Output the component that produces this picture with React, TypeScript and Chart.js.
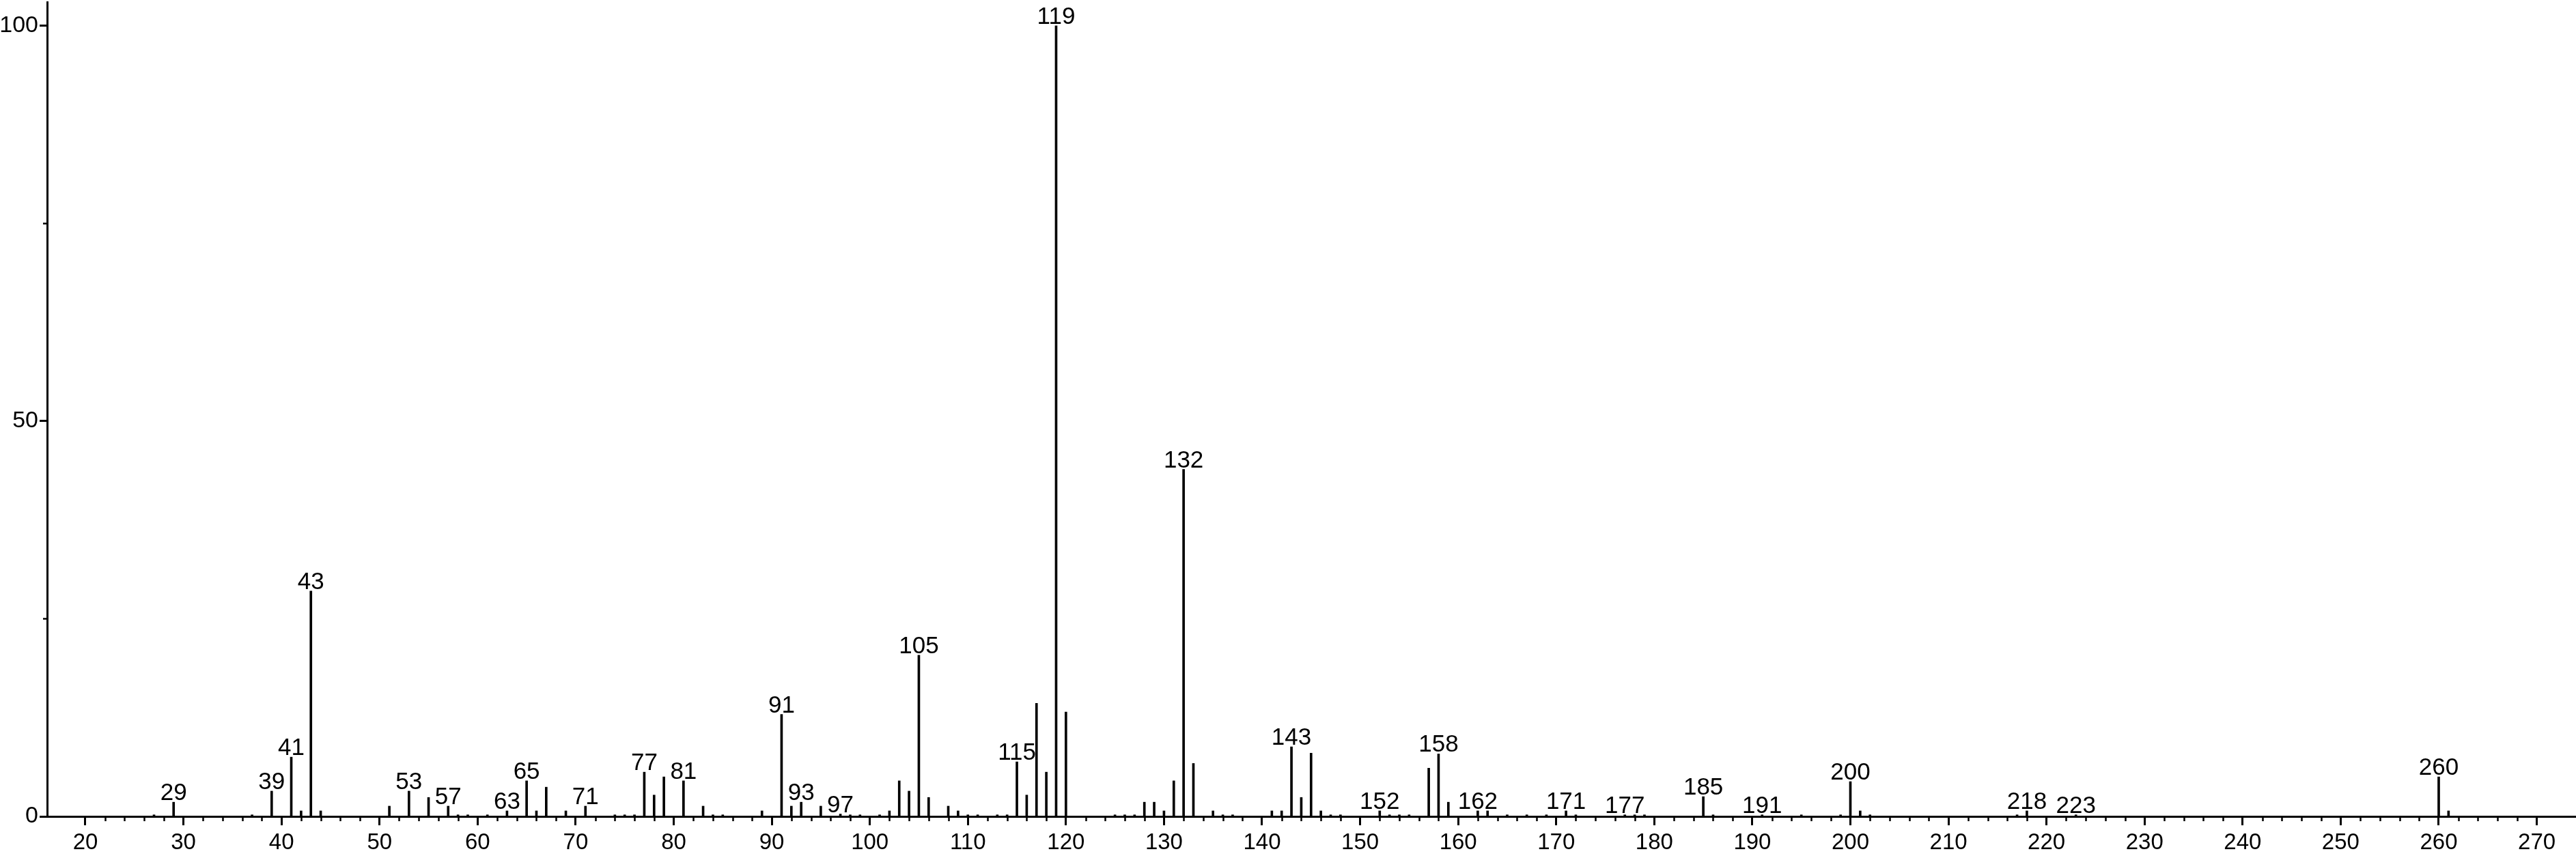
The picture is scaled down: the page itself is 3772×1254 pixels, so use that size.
import React, { useEffect, useRef } from "react";
import { Chart, registerables } from "chart.js";

Chart.register(...registerables);

// m/z of every peak
const mzValues = [
  27, 29, 37, 39, 41, 42, 43, 44, 51, 53, 55, 57, 58, 59, 61, 63, 65, 66, 67, 69,
  71, 74, 75, 76, 77, 78, 79, 81, 83, 84, 85, 89, 91, 92, 93, 95, 97, 98, 99, 101,
  102, 103, 104, 105, 106, 108, 109, 110, 111, 113, 114, 115, 116, 117, 118, 119, 120,
  125, 126, 127, 128, 129, 130, 131, 132, 133, 135, 136, 137, 141, 142, 143, 144, 145,
  146, 147, 148, 152, 153, 154, 155, 157, 158, 159, 162, 163, 165, 167, 169, 171, 172,
  177, 178, 179, 185, 186, 191, 195, 199, 200, 201, 202, 217, 218, 223, 260, 261,
];

// relative intensity (%) of every peak
const intensities = [
  0.2, 1.8, 0.2, 3.2, 7.5, 0.7, 28.5, 0.7, 1.3, 3.2, 2.4, 1.3, 0.2, 0.2, 0.2, 0.7, 4.5, 0.7, 3.7, 0.7,
  1.3, 0.2, 0.2, 0.2, 5.6, 2.7, 5.0, 4.5, 1.3, 0.2, 0.2, 0.7, 12.9, 1.3, 1.8, 1.3, 0.3, 0.2, 0.2, 0.2,
  0.7, 4.5, 3.2, 20.4, 2.4, 1.3, 0.7, 0.2, 0.2, 0.2, 0.2, 6.9, 2.7, 14.3, 5.6, 100, 13.2,
  0.2, 0.2, 0.2, 1.8, 1.8, 0.7, 4.5, 43.9, 6.7, 0.7, 0.2, 0.2, 0.7, 0.7, 8.8, 2.4, 8.0,
  0.7, 0.2, 0.2, 0.7, 0.2, 0.2, 0.2, 6.1, 7.9, 1.8, 0.7, 0.7, 0.2, 0.2, 0.2, 0.7, 0.2,
  0.2, 0.2, 0.2, 2.5, 0.2, 0.2, 0.2, 0.2, 4.4, 0.7, 0.2, 0.2, 0.7, 0.2, 5.0, 0.7,
];

// peaks that carry an m/z label
const labelledPeaks = [
  29, 39, 41, 43, 53, 57, 63, 65, 71, 77, 81, 91, 93, 97, 105, 115, 119, 132, 143,
  152, 158, 162, 171, 177, 185, 191, 200, 218, 223, 260,
];

// axis ticks
const xTickValues = [20, 30, 40, 50, 60, 70, 80, 90, 100, 110, 120, 130, 140, 150, 160, 170, 180, 190, 200, 210, 220, 230, 240, 250, 260, 270];
const yTickValues = [0, 50, 100];
const yMinorTickValues = [25, 75];
const xMinorTickValues: number[] = [];
for (let v = 22; v <= 268; v += 2) if (v % 10 !== 0) xMinorTickValues.push(v);

const X_MIN = 16.1;
const X_MAX = 274;
const Y_MIN = 0;
const Y_MAX = 103;

const FONT = '"Liberation Sans", Arial, Helvetica, sans-serif';

export default function App() {
  const ref = useRef<HTMLCanvasElement>(null);

  useEffect(() => {
    document.body.style.margin = "0";
    const canvas = ref.current!;

    const peakLabels = {
      id: "peakLabels",
      afterDatasetsDraw(chart: any) {
        const ctx = chart.ctx;
        const xs = chart.scales.x;
        const ys = chart.scales.y;
        ctx.save();
        ctx.fillStyle = "#000";
        ctx.font = `35px ${FONT}`;
        ctx.textAlign = "center";
        ctx.textBaseline = "alphabetic";
        labelledPeaks.forEach((mz) => {
          const i = mzValues.indexOf(mz);
          if (i < 0) return;
          const v = intensities[i];
          ctx.fillText(String(mz), xs.getPixelForValue(mz), ys.getPixelForValue(v) - 3);
        });
        ctx.restore();
      },
    };

    const minorTicks = {
      id: "minorTicks",
      afterDraw(chart: any) {
        const ctx = chart.ctx;
        const xs = chart.scales.x;
        const ys = chart.scales.y;
        const area = chart.chartArea;
        ctx.save();
        ctx.strokeStyle = "#000";
        ctx.lineWidth = 2.5;
        ctx.beginPath();
        xMinorTickValues.forEach((v) => {
          const px = Math.round(xs.getPixelForValue(v)) + 0.5;
          ctx.moveTo(px, area.bottom);
          ctx.lineTo(px, area.bottom + 7);
        });
        yMinorTickValues.forEach((v) => {
          const py = Math.round(ys.getPixelForValue(v)) + 0.5;
          ctx.moveTo(area.left - 6, py);
          ctx.lineTo(area.left, py);
        });
        ctx.stroke();
        ctx.restore();
      },
    };

    const chart = new Chart(canvas, {
      type: "bar",
      data: {
        datasets: [
          {
            data: mzValues.map((x, i) => ({ x, y: intensities[i] })),
            backgroundColor: "#000",
            borderWidth: 0,
            barThickness: 3,
          } as any,
        ],
      },
      options: {
        responsive: false,
        maintainAspectRatio: false,
        animation: false,
        layout: { padding: { top: 3, right: 0, left: 0, bottom: 0 } },
        plugins: {
          legend: { display: false },
          tooltip: { enabled: false },
        },
        scales: {
          x: {
            type: "linear",
            min: X_MIN,
            max: X_MAX,
            offset: false,
            afterBuildTicks: (s: any) => {
              s.ticks = xTickValues.map((v) => ({ value: v }));
            },
            afterFit: (s: any) => {
              s.height = 58;
              s.paddingLeft = 0;
              s.paddingRight = 0;
            },
            grid: {
              display: true,
              drawOnChartArea: false,
              drawTicks: true,
              tickLength: 13,
              tickWidth: 3,
              tickColor: "#000",
              offset: false,
            },
            border: { display: true, color: "#000", width: 3 },
            ticks: {
              color: "#000",
              font: { family: FONT, size: 33 },
              padding: 6,
              maxRotation: 0,
              autoSkip: false,
              callback: (v: any) => String(v),
            },
          },
          y: {
            type: "linear",
            min: Y_MIN,
            max: Y_MAX,
            afterBuildTicks: (s: any) => {
              s.ticks = yTickValues.map((v) => ({ value: v }));
            },
            afterFit: (s: any) => {
              s.width = 69;
              s.paddingTop = 0;
              s.paddingBottom = 0;
            },
            grid: {
              display: true,
              drawOnChartArea: false,
              drawTicks: true,
              tickLength: 11,
              tickWidth: 3,
              tickColor: "#000",
            },
            border: { display: true, color: "#000", width: 3 },
            ticks: {
              color: "#000",
              font: { family: FONT, size: 34 },
              padding: 2,
              autoSkip: false,
              callback: (v: any) => String(v),
            },
          },
        },
      } as any,
      plugins: [peakLabels, minorTicks],
    });

    return () => chart.destroy();
  }, []);

  return <canvas ref={ref} width={3772} height={1254} style={{ display: "block" }} />;
}
